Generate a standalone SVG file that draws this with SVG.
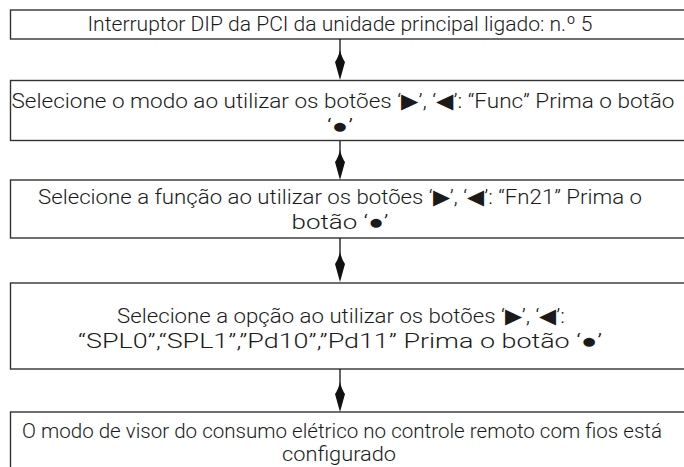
<svg xmlns="http://www.w3.org/2000/svg" width="684" height="467" viewBox="0 0 684 467">
<style>
.box{fill:#fff;stroke:#333;stroke-width:1.4}
.t{font-family:Roboto,"Liberation Sans",Arial,sans-serif;font-weight:300;font-size:21px;fill:#1a1a1a;text-anchor:middle}
.c{stroke:#111;stroke-width:1.3;fill:none}
.h{fill:#111}
</style>
<rect width="684" height="467" fill="#fff"/>
<g id="n1"><rect class="box" x="10.5" y="10" width="700" height="29"/>
<text class="t" x="340" y="31" textLength="505" lengthAdjust="spacingAndGlyphs">Interruptor DIP da PCI da unidade principal ligado: n.º 5</text></g>
<g id="n2"><rect class="box" x="10.5" y="80.5" width="700" height="60"/>
<text class="t" x="343" y="108" textLength="663" lengthAdjust="spacingAndGlyphs">Selecione o modo ao utilizar os botões ‘▶’, ‘◀’: “Func” Prima o botão</text>
<text class="t" x="340" y="133" textLength="26" lengthAdjust="spacingAndGlyphs">‘●’</text></g>
<g id="n3"><rect class="box" x="10.5" y="180" width="700" height="58"/>
<text class="t" x="340" y="204" textLength="604" lengthAdjust="spacingAndGlyphs">Selecione a função ao utilizar os botões ‘▶’, ‘◀’: “Fn21” Prima o</text>
<text class="t" x="340" y="229" textLength="97" lengthAdjust="spacingAndGlyphs">botão ‘●’</text></g>
<g id="n4"><rect class="box" x="10.5" y="283" width="700" height="86"/>
<text class="t" x="341" y="323" textLength="448" lengthAdjust="spacingAndGlyphs">Selecione a opção ao utilizar os botões ‘▶’, ‘◀’:</text>
<text class="t" x="340" y="348" textLength="524" lengthAdjust="spacingAndGlyphs">“SPL0”,“SPL1”,”Pd10”,”Pd11” Prima o botão ‘●’</text></g>
<g id="n5"><rect class="box" x="10.5" y="412" width="700" height="70"/>
<text class="t" x="342" y="438" textLength="640" lengthAdjust="spacingAndGlyphs">O modo de visor do consumo elétrico no controle remoto com fios está</text>
<text class="t" x="339" y="461" textLength="114" lengthAdjust="spacingAndGlyphs">configurado</text></g>
<g id="connectors">
<line class="c" x1="340" y1="39" x2="340" y2="60"/><path class="h" d="M340,80 L335,62 Q338,58 340,50 Q342,58 345,62 Z"/>
<line class="c" x1="340" y1="141" x2="340" y2="160"/><path class="h" d="M340,180 L335,162 Q338,158 340,150 Q342,158 345,162 Z"/>
<line class="c" x1="340" y1="238" x2="340" y2="262"/><path class="h" d="M340,282 L335,264 Q338,260 340,252 Q342,260 345,264 Z"/>
<line class="c" x1="340" y1="369" x2="340" y2="392"/><path class="h" d="M340,412 L335,394 Q338,390 340,382 Q342,390 345,394 Z"/>
</g>
</svg>
